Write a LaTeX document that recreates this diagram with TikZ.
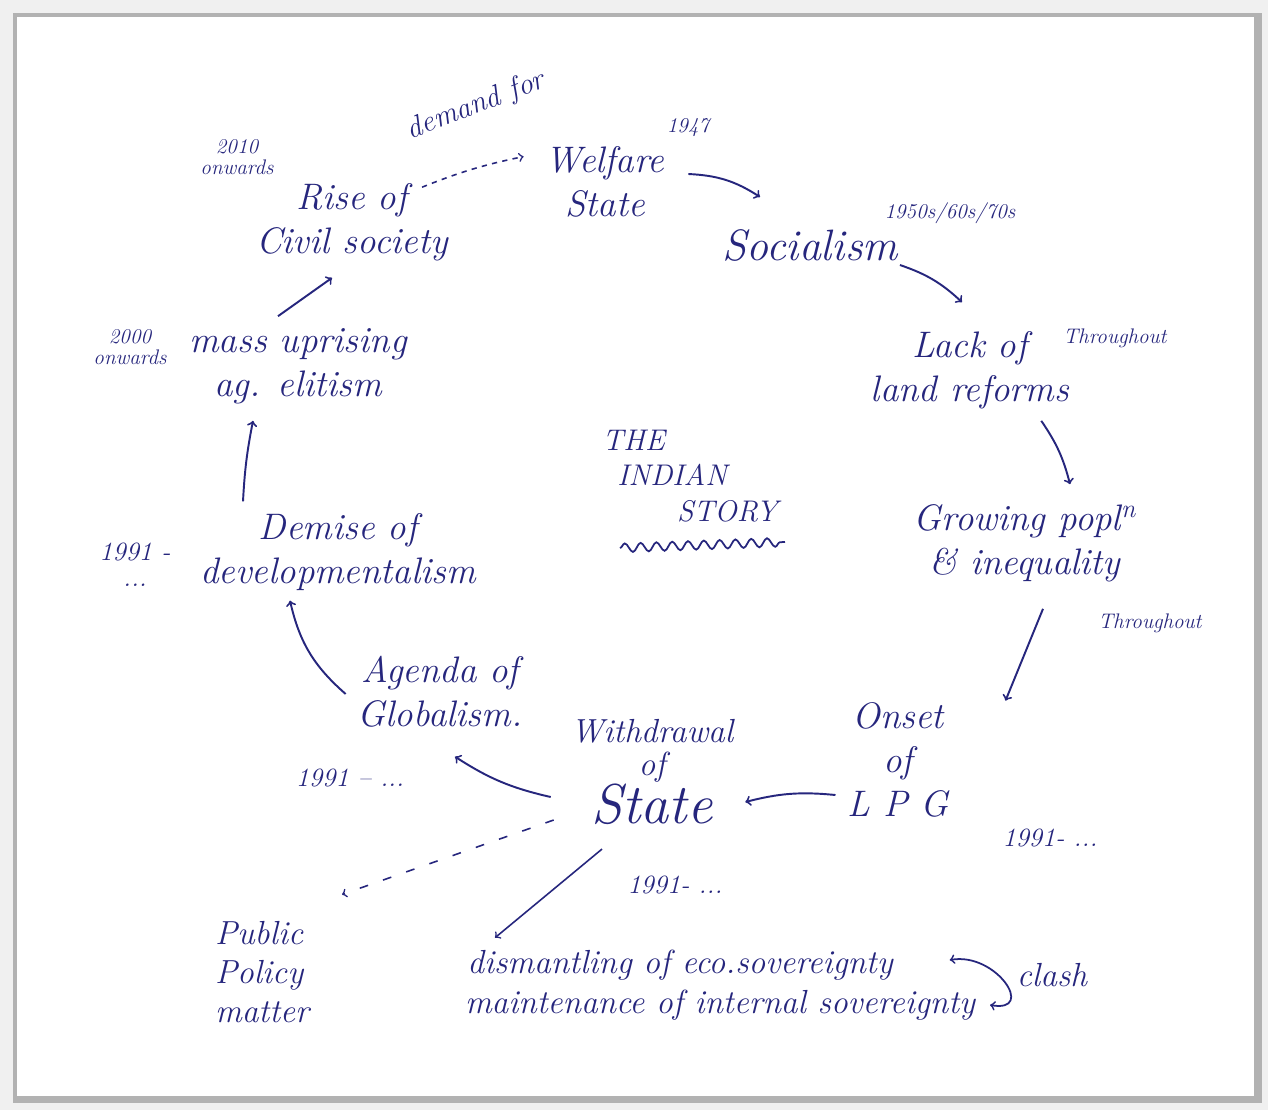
\documentclass[tikz,border=0pt]{standalone}
\usetikzlibrary{arrows,decorations.pathmorphing}
\definecolor{ink}{RGB}{38,38,125}
\tikzset{
  idea/.style={text=ink, font=\itshape\fontsize{21}{25}\selectfont, align=center, inner sep=1pt},
  bigidea/.style={idea, font=\itshape\fontsize{25}{28}\selectfont},
  note/.style={text=ink, font=\itshape\fontsize{12}{12}\selectfont, align=center, inner sep=1pt},
  flow/.style={->, >=to, draw=ink, line width=1.1pt},
  hint/.style={flow, dashed, line width=0.9pt},
}

\begin{document}
\begin{tikzpicture}[x=0.02cm, y=0.02cm]
% frame
\fill[gray!12] (0,0) rectangle (1268,-1110);
\fill[gray!60] (13,-13) rectangle (1262,-1103);
\fill[white] (17,-17) rectangle (1254,-1096);
\useasboundingbox (0,0) rectangle (1268,-1110);

% the cycle
\node[idea] (rise) at (352,-222) {Rise of\\Civil society};
\node[note] (t2010) at (237,-157) {2010\\onwards};
\node[idea, rotate=21, font=\itshape\fontsize{17}{19}\selectfont] (demand) at (476,-106) {demand for};
\node[idea] (welfare) at (605,-182) {Welfare\\State};
\node[note] (y1947) at (688,-128) {1947};
\node[bigidea] (social) at (810,-245) {Socialism};
\node[note] (y1950) at (950,-213) {1950s/60s/70s};
\node[idea] (lack) at (970,-370) {Lack of\\land reforms};
\node[note] (thr1) at (1115,-338) {Throughout};
\node[idea] (grow) at (1025,-543) {Growing popl\textsuperscript{n}\\\& inequality};
\node[note] (thr2) at (1150,-623) {Throughout};
\node[idea] (onset) at (898,-760) {Onset\\of\\L P G};
\node[note, font=\itshape\fontsize{15}{15}\selectfont] (y1991a) at (1050,-838) {1991-~...};
\node[idea, font=\itshape\fontsize{19}{19}\selectfont] (withd) at (652,-772) {Withdrawal\\of\\{\fontsize{32}{32}\selectfont State}};
\node[note, font=\itshape\fontsize{15}{15}\selectfont] (y1991b) at (675,-885) {1991-~...};
\node[idea] (agenda) at (440,-692) {Agenda of\\Globalism.};
\node[note, font=\itshape\fontsize{15}{15}\selectfont] (y1991c) at (350,-778) {1991 --~...};
\node[idea] (demise) at (338,-552) {Demise of\\developmentalism};
\node[note, font=\itshape\fontsize{15}{15}\selectfont] (y1991d) at (135,-565) {1991 -\\...};
\node[idea] (mass) at (298,-366) {mass uprising\\ag. elitism};
\node[note] (t2000) at (130,-347) {2000\\onwards};

% centre title
\node[note, font=\itshape\fontsize{17}{20}\selectfont, align=left] (story) at (690,-476)
  {THE\\\hspace*{0.5em}INDIAN\\\hspace*{2.5em}STORY};
\draw[ink, line width=1pt, decorate, decoration={snake, amplitude=2.5pt, segment length=9pt}]
  ([shift={(-70,-72)}]story.center) -- ([shift={(95,-66)}]story.center);

% branches from the state
\node[idea, align=left, font=\itshape\fontsize{19}{22}\selectfont] (public) at (262,-972) {Public\\Policy\\matter};
\node[idea, font=\itshape\fontsize{19}{19}\selectfont] (dism) at (680,-965) {dismantling of eco.sovereignty};
\node[idea, font=\itshape\fontsize{19}{19}\selectfont] (maint) at (720,-1005) {maintenance of internal sovereignty};
\node[idea, font=\itshape\fontsize{19}{19}\selectfont] (clash) at (1052,-975) {clash};

\draw[hint] ([shift={(-28,-6)}]rise.north east) to[bend left=5] ([shift={(-20,-12)}]welfare.north west);
\draw[flow] ([shift={(22,8)}]welfare.east) to[bend left=15] ([shift={(-50,30)}]social.north);
\draw[flow] ([shift={(0,-20)}]social.east) to[bend left=12] ([shift={(-8,27)}]lack.north);
\draw[flow] ([shift={(-30,-10)}]lack.south east) to[bend left=10] ([shift={(45,18)}]grow.north);
\draw[flow] ([shift={(18,-25)}]grow.south) -- ([shift={(55,0)}]onset.north east);
\draw[flow] ([shift={(-10,-35)}]onset.west) to[bend right=10] ([shift={(10,-30)}]withd.east);
\draw[flow] ([shift={(-18,-25)}]withd.west) to[bend left=10] ([shift={(15,-27)}]agenda.south);
\draw[flow] ([shift={(-10,-2)}]agenda.west) to[bend left=18] ([shift={(-48,-8)}]demise.south);
\draw[flow] ([shift={(-95,10)}]demise.north) to[bend left=4] ([shift={(-45,-15)}]mass.south);
\draw[flow] ([shift={(-20,10)}]mass.north) -- ([shift={(-20,-15)}]rise.south);
\draw[hint, dash pattern=on 5pt off 9pt] ([shift={(-15,-48)}]withd.west) -- ([shift={(80,25)}]public.north);
\draw[flow, line width=0.9pt] ([shift={(-50,-22)}]withd.south) -- ([shift={(-185,10)}]dism.north);
\draw[<->, >=to, draw=ink, line width=1pt] ([shift={(55,5)}]dism.east) to[out=10, in=-10, looseness=2] ([shift={(13,0)}]maint.east);
\end{tikzpicture}
\end{document}
